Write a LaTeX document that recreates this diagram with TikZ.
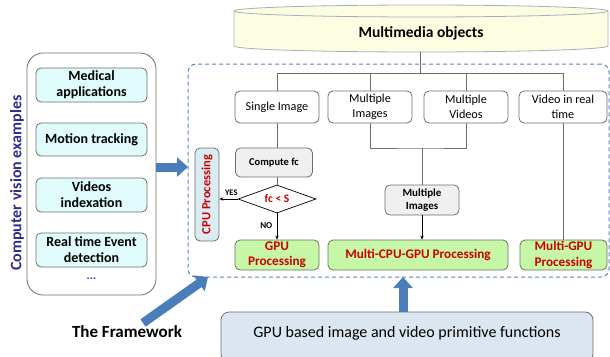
\documentclass[tikz,border=0pt]{standalone}
\usepackage{fontspec}
\setmainfont{Carlito}
\usetikzlibrary{shapes.geometric,arrows.meta}
\definecolor{boxline}{HTML}{6E6E6E}
\definecolor{cyanfill}{HTML}{DFFBFB}
\definecolor{greenfill}{HTML}{C6F7A6}
\definecolor{redtxt}{HTML}{CC0000}
\definecolor{cpufill}{HTML}{D9ECF2}
\definecolor{primfill}{HTML}{DCE6F1}
\definecolor{bluearrow}{HTML}{4A7EBB}
\definecolor{dashblue}{HTML}{5A83BA}
\definecolor{navytxt}{HTML}{2E2D8C}
\definecolor{grayfill}{HTML}{F0F0F0}
\definecolor{cylfill}{HTML}{FDFDE2}
\definecolor{cylline}{HTML}{A6AEBA}
\tikzset{
  base/.style={draw=boxline, line width=0.8pt, rounded corners=5pt, inner sep=1pt, align=center},
  cvbox/.style={base, fill=cyanfill, minimum width=111pt, minimum height=34pt, font=\fontsize{14}{16}\selectfont\bfseries},
  topbox/.style={base, fill=white, minimum width=84pt, minimum height=32pt, font=\fontsize{12.2}{14.5}\selectfont},
  graybox/.style={base, fill=grayfill, font=\fontsize{10.5}{13}\selectfont\bfseries},
  procbox/.style={base, fill=greenfill, minimum height=30pt, text=redtxt, font=\fontsize{13.2}{15.5}\selectfont\bfseries},
  conn/.style={draw=boxline, line width=0.8pt},
  arr/.style={conn, -{Stealth[length=4pt,width=3.5pt]}, draw=black},
  blockarrow/.style={draw=bluearrow, line width=9pt, -{Triangle[length=11pt,width=19pt]}},
}
\begin{document}
\begin{tikzpicture}[x=1pt,y=-1pt]
\clip (0,0) rectangle (610,356);
% cylinder
\draw[draw=cylline, fill=cylfill, line width=0.8pt] (234,11) -- (234,46) arc[start angle=180, end angle=360, x radius=187pt, y radius=6pt] -- (608,11) arc[start angle=0, end angle=180, x radius=187pt, y radius=6pt] -- cycle;
\draw[draw=cylline, line width=0.8pt] (234,11) arc[start angle=180, end angle=360, x radius=187pt, y radius=6pt];
\node[font=\fontsize{15.5}{18}\selectfont\bfseries] (mm) at (421,33) {Multimedia objects};
\coordinate (mmb) at (420,52);

% left box
\node[draw=boxline, line width=0.8pt, rounded corners=16pt, minimum width=129pt, minimum height=242pt] (cv) at (91.5,174) {};
\node[cvbox] (med) at (91.5,85) {Medical\\applications};
\node[cvbox, minimum height=33pt] (mot) at (91.5,139.5) {Motion tracking};
\node[cvbox] (vid) at (91.5,195) {Videos\\indexation};
\node[cvbox] (rte) at (91.5,250) {Real time Event\\detection};
\node[text=navytxt, font=\fontsize{12}{14}\selectfont\bfseries] (dots) at (91.5,279) {...};
\node[rotate=90, text=navytxt, font=\fontsize{16}{18}\selectfont\bfseries] (cvt) at (17,183) {Computer vision examples};

% framework dashed region
\node[draw=dashblue, line width=1pt, dash pattern=on 4pt off 3pt, rounded corners=8pt, minimum width=421pt, minimum height=213pt] (fw) at (398.5,170.5) {};

% top boxes
\node[topbox] (si) at (277,107) {Single Image};
\node[topbox] (mimg) at (370,107) {Multiple\\Images};
\node[topbox] (mvid) at (466,107) {Multiple\\Videos};
\node[topbox, minimum width=88pt] (vrt) at (563,107) {Video in real\\time};
\coordinate (busl) at (277,73);
\coordinate (busr) at (563,73);
\coordinate (busm) at (420,73);
\draw[conn] (mmb) -- (busm);
\draw[conn] (si.north) |- (busl) -- (busr) -- (vrt.north);
\draw[conn] (mimg.north) -- (mimg.north |- busl);
\draw[conn] (mvid.north) -- (mvid.north |- busl);

% single image branch
\node[graybox, minimum width=77pt, minimum height=29pt] (cf) at (274,162.5) {Compute fc};
\draw[conn] (si.south) -- (si.south |- cf.north);
\node[diamond, draw=black, line width=0.7pt, fill=white, minimum width=78pt, minimum height=28pt, aspect=2.8, inner sep=0pt, text=redtxt, font=\fontsize{11.5}{13}\selectfont\bfseries] (dia) at (277,199) {fc < S};
\draw[conn] (si.south |- cf.south) -- (dia.north);
\node[base, fill=cpufill, minimum width=24pt, minimum height=93pt] (cpu) at (207,194.5) {};
\node[rotate=90, text=redtxt, font=\fontsize{12.5}{15}\selectfont\bfseries] (cput) at (cpu.center) {CPU Processing};
\draw[arr] (dia.west) -- (dia.west -| cpu.east) node[pos=0.35, above=0pt, font=\fontsize{8.5}{9}\selectfont\bfseries, text=black] (yes) {YES};
\node[procbox, minimum width=84pt] (gpu) at (277,255) {GPU\\Processing};
\draw[arr] (dia.south) -- (gpu.north) node[pos=0.45, left=1pt, font=\fontsize{9}{9}\selectfont\bfseries, text=black] (no) {NO};

% multiple images / videos branch
\coordinate (j) at (422,148);
\draw[conn] (mimg.south) |- (j) -| (mvid.south);
\node[graybox, minimum width=74pt, minimum height=30pt, font=\fontsize{11}{13}\selectfont\bfseries] (mi2) at (422,200) {Multiple\\Images};
\draw[conn] (j) -- (mi2.north);
\node[procbox, minimum width=180pt] (mcg) at (418,255) {Multi-CPU-GPU Processing};
\draw[arr] (mi2.south) -- (mi2.south |- mcg.north);
\node[procbox, minimum width=87pt] (mgpu) at (563.5,255) {Multi-GPU\\Processing};
\draw[conn] (vrt.south) -- (vrt.south |- mgpu.north);

% block arrows
\coordinate (la) at (156,167);
\coordinate (lb) at (188,167);
\draw[blockarrow] (la) -- (lb);
\node[font=\fontsize{17}{19}\selectfont\bfseries] (frm) at (127,332) {The Framework};
\coordinate (fa) at (143,323);
\coordinate (fb) at (208,277);
\draw[blockarrow] (fa) -- (fb);
\node[base, fill=primfill, rounded corners=8pt, minimum width=372pt, minimum height=50pt] (prim) at (407,337) {};
\node[font=\fontsize{16}{18}\selectfont] (primt) at (407,333) {GPU based image and video primitive functions};
\coordinate (pa) at (403,312);
\coordinate (pb) at (403,277);
\draw[blockarrow] (pa) -- (pb);
\end{tikzpicture}
\end{document}
